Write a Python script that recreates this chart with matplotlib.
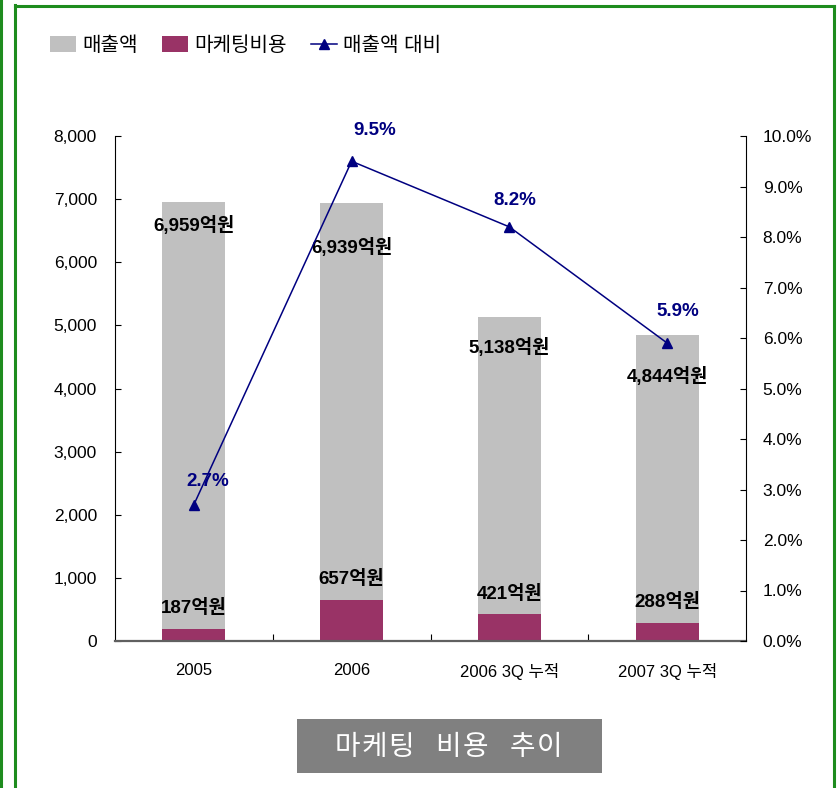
import matplotlib
matplotlib.use("Agg")
import matplotlib.pyplot as plt
from matplotlib.patches import Patch, Rectangle
from matplotlib.lines import Line2D
from matplotlib.ticker import FuncFormatter

plt.rcParams['font.family'] = ['Liberation Sans', 'Noto Sans CJK KR']

# data
categories = ['2005', '2006', '2006 3Q 누적', '2007 3Q 누적']
sales = [6959, 6939, 5138, 4844]          # 매출액 (억원)
marketing = [187, 657, 421, 288]          # 마케팅비용 (억원)
ratio = [2.7, 9.5, 8.2, 5.9]              # 매출액 대비 (%)

# label offsets in points (hand placed in the original)
sales_label_dy = [-17, -32, -22, -30]
ratio_label_off = [(10, 17), (17, 22), (4, 19), (8, 23)]

gray = '#C0C0C0'
maroon = '#993366'
navy = '#000080'

fig = plt.figure(figsize=(8.38, 7.88), dpi=100)
W, H = 838, 788

ax = fig.add_axes([115 / W, 1 - 641 / H, 631 / W, 505 / H])
ax2 = ax.twinx()

x = list(range(len(categories)))
ax.bar(x, sales, width=0.4, color=gray, zorder=1)
ax.bar(x, marketing, width=0.4, color=maroon, zorder=2)

ax.set_xlim(-0.5, len(categories) - 0.5)
ax.set_ylim(0, 8000)
ax.set_yticks(range(0, 8001, 1000))
ax.yaxis.set_major_formatter(FuncFormatter(lambda v, p: f'{int(v):,}'))

# ticks at category boundaries, labels at centers
ax.set_xticks([i + 0.5 for i in x[:-1]])
ax.set_xticklabels([])
ax.set_xticks(x, minor=True)
ax.set_xticklabels(categories, minor=True, fontsize=12)
ax.tick_params(axis='x', which='minor', length=0, pad=16)
ax.tick_params(axis='x', which='major', direction='in', length=5)
ax.tick_params(axis='y', direction='in', length=4, labelsize=12.5, pad=13)

ax.spines['top'].set_visible(False)
ax2.spines['top'].set_visible(False)
ax.spines['right'].set_visible(False)
ax.spines['bottom'].set_color('#606060')
ax.spines['bottom'].set_linewidth(1.6)

for xi, v, dy in zip(x, sales, sales_label_dy):
    ax.annotate(f'{v:,}억원', (xi, v), xytext=(0, dy), textcoords='offset points',
                ha='center', va='center', fontsize=13.5, fontweight='bold', color='black')
for xi, v in zip(x, marketing):
    ax.annotate(f'{v:,}억원', (xi, v), xytext=(0, 15), textcoords='offset points',
                ha='center', va='center', fontsize=13.5, fontweight='bold', color='black')

ax2.plot(x, ratio, color=navy, marker='^', markersize=7, linewidth=1.1, zorder=5)
ax2.set_ylim(0, 10)
ax2.set_yticks(range(0, 11))
ax2.yaxis.set_major_formatter(FuncFormatter(lambda v, p: f'{v:.1f}%'))
ax2.tick_params(axis='y', direction='in', length=4, labelsize=12.5, pad=12)
ax2.spines['left'].set_visible(False)
ax2.spines['bottom'].set_visible(False)

for xi, v, off in zip(x, ratio, ratio_label_off):
    ax2.annotate(f'{v:.1f}%', (xi, v), xytext=off, textcoords='offset points',
                 ha='center', va='center', fontsize=13.5, fontweight='bold', color=navy)

# legend
handles = [Patch(facecolor=gray, edgecolor='none'),
           Patch(facecolor=maroon, edgecolor='none'),
           Line2D([0], [0], color=navy, marker='^', markersize=7, linewidth=1.1)]
fig.legend(handles, ['매출액', '마케팅비용', '매출액 대비'], loc='upper left',
           bbox_to_anchor=(50 / W, 1 - 36 / H), ncol=3, frameon=False,
           fontsize=14.5, handlelength=1.3, handleheight=0.8, handletextpad=0.3,
           columnspacing=1.2, borderpad=0, borderaxespad=0)

# title box at the bottom
fig.add_artist(Rectangle((297 / W, 1 - 773 / H), 305 / W, 54 / H,
                         transform=fig.transFigure, facecolor='#808080', edgecolor='none'))
title = '마케팅 비용 추이'
pos = 347
for ch in title:
    if ch == ' ':
        pos += 20
        continue
    fig.text(pos / W, 1 - 748 / H, ch, ha='center', va='center',
             fontsize=20, color='white')
    pos += 27

# green frame
green = '#1E8C1E'
for xs, ys in [([15, 834], [6, 6]), ([834, 834], [6, 788]),
               ([15, 15], [5, 788]), ([1, 1], [0, 788])]:
    fig.add_artist(Line2D([v / W for v in xs], [1 - v / H for v in ys],
                          transform=fig.transFigure, color=green, linewidth=2.2))

fig.savefig('out.png', dpi=100)
